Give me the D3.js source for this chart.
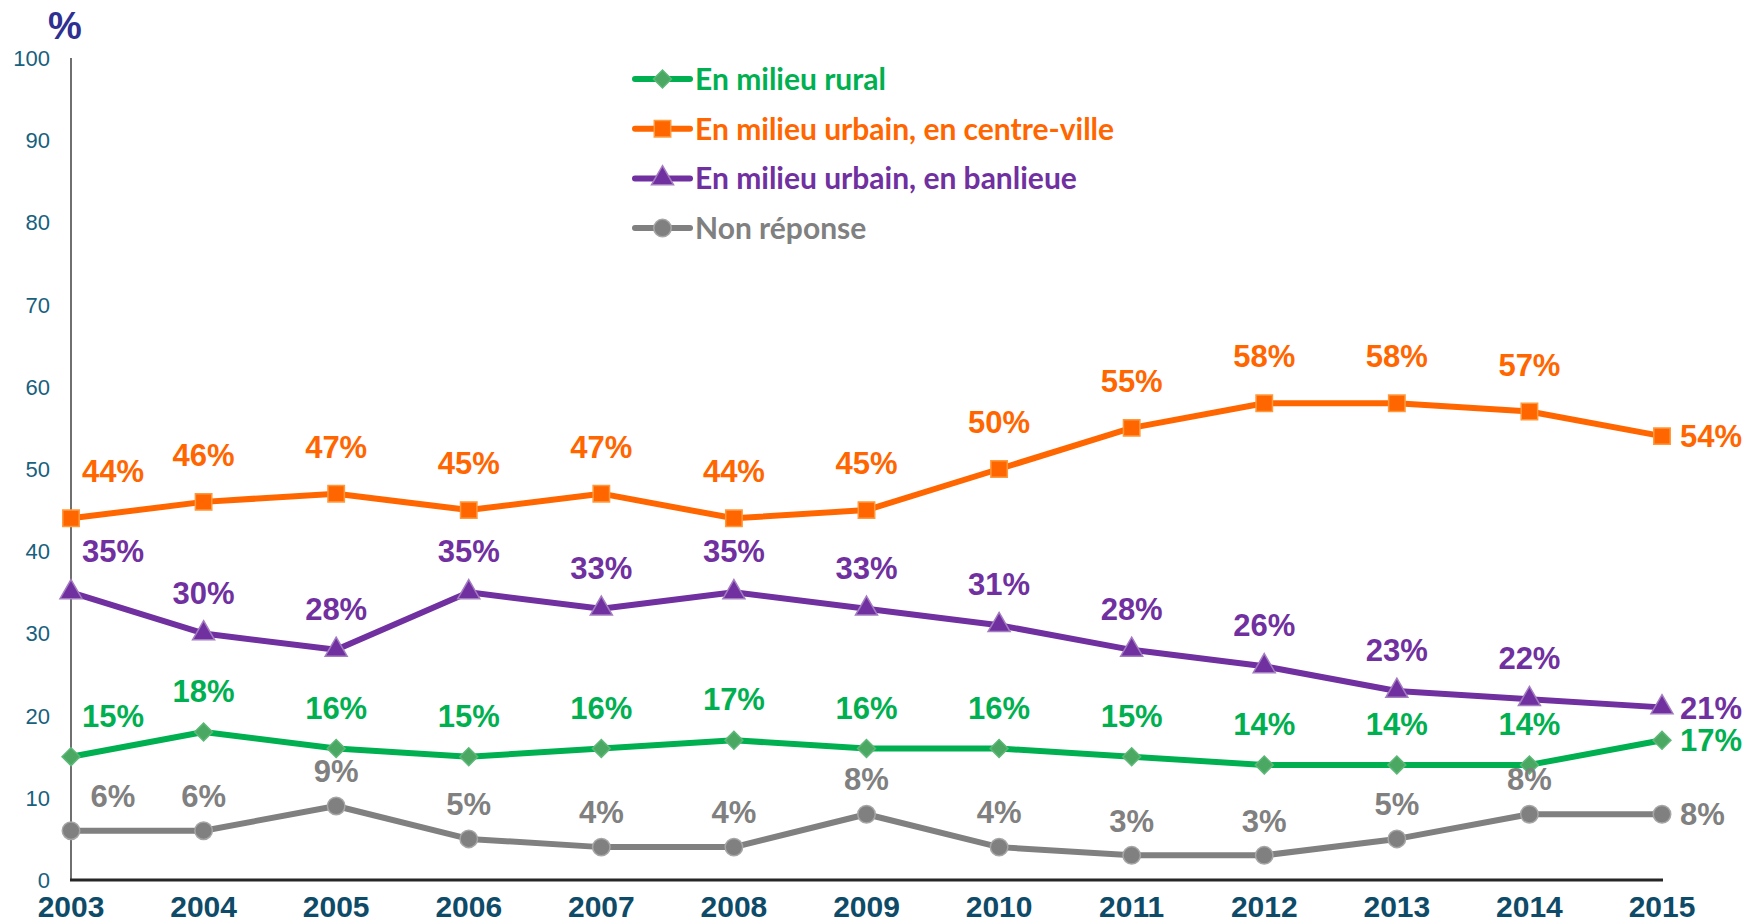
<!doctype html>
<html lang="fr">
<head>
<meta charset="utf-8">
<title>Lieu de résidence 2003-2015</title>
<style>
    body { margin: 0; background: #fff; }
    svg { display: block; }
    .ytick { font-family: "Liberation Sans", Arial, sans-serif; font-size: 22px; fill: #17607e; }
    .xtick { font-family: "Liberation Sans", Arial, sans-serif; font-size: 30px; font-weight: bold; fill: #0e4b68; }
    .lbl { font-family: "Liberation Sans", Arial, sans-serif; font-size: 31px; font-weight: bold; }
    .leg { font-family: Lato, "Open Sans", sans-serif; font-size: 30px; font-weight: bold; }
</style>
</head>
<body>
<svg id="chart" width="1746" height="924"></svg>
<script src="https://d3js.org/d3.v7.min.js"></script>
<script>

    // data
    const years = [2003, 2004, 2005, 2006, 2007, 2008, 2009, 2010, 2011, 2012, 2013, 2014, 2015];
    const yTicks = [0, 10, 20, 30, 40, 50, 60, 70, 80, 90, 100];

    const seriesNames = ["En milieu rural", "En milieu urbain, en centre-ville", "En milieu urbain, en banlieue", "Non réponse"];
    const ruralValues = [15, 18, 16, 15, 16, 17, 16, 16, 15, 14, 14, 14, 17];
    const centreValues = [44, 46, 47, 45, 47, 44, 45, 50, 55, 58, 58, 57, 54];
    const banlieueValues = [35, 30, 28, 35, 33, 35, 33, 31, 28, 26, 23, 22, 21];
    const nonReponseValues = [6, 6, 9, 5, 4, 4, 8, 4, 3, 3, 5, 8, 8];

    // look of each series (diamond = square turned 45 degrees, like Excel)
    const styles = [
        { line: "#00b050", fill: "#4ba863", stroke: "#5cb877", shape: d3.symbolSquare, size: 160, rotate: 45, dy: -41 },
        { line: "#ff6600", fill: "#ff6600", stroke: "#ff9a3c", shape: d3.symbolSquare, size: 270, rotate: 0, dy: -47 },
        { line: "#7030a0", fill: "#7030a0", stroke: "#a47cc0", shape: d3.symbolTriangle, size: 210, rotate: 0, dy: -41 },
        { line: "#808080", fill: "#808080", stroke: "#a6a6a6", shape: d3.symbolCircle, size: 240, rotate: 0, dy: -35 }
    ];

    const allValues = [ruralValues, centreValues, banlieueValues, nonReponseValues];
    const series = seriesNames.map((name, i) => ({
        name: name,
        style: styles[i],
        points: years.map((yr, j) => ({ year: yr, value: allValues[i][j] }))
    }));

    const svg = d3.select("#chart");
    const plotLeft = 71, plotRight = 1662, plotTop = 58, plotBottom = 880;

    const x = d3.scalePoint().domain(years).range([plotLeft, plotRight]);
    const y = d3.scaleLinear().domain([0, 100]).range([plotBottom, plotTop]);

    // axes
    svg.append("line")
        .attr("x1", plotLeft).attr("x2", plotLeft)
        .attr("y1", y(100)).attr("y2", plotBottom)
        .attr("stroke", "#222").attr("stroke-width", 1.3);

    svg.append("line")
        .attr("x1", plotLeft - 1).attr("x2", plotRight + 1)
        .attr("y1", plotBottom).attr("y2", plotBottom)
        .attr("stroke", "#262626").attr("stroke-width", 3);

    svg.selectAll("text.ytick")
        .data(yTicks).enter()
        .append("text")
        .attr("class", "ytick")
        .attr("x", 50)
        .attr("y", d => y(d))
        .attr("dy", "0.36em")
        .attr("text-anchor", "end")
        .text(d => d);

    svg.selectAll("text.xtick")
        .data(years).enter()
        .append("text")
        .attr("class", "xtick")
        .attr("x", d => x(d))
        .attr("y", 917)
        .attr("text-anchor", "middle")
        .text(d => d);

    svg.append("text")
        .attr("x", 65).attr("y", 39)
        .attr("text-anchor", "middle")
        .style("font-family", "'Liberation Sans', Arial, sans-serif")
        .style("font-size", "38px")
        .style("font-weight", "bold")
        .style("fill", "#2e3092")
        .text("%");

    // lines, markers, labels
    const line = d3.line()
        .x(d => x(d.year))
        .y(d => y(d.value));

    const g = svg.selectAll("g.serie")
        .data(series).enter()
        .append("g")
        .attr("class", "serie");

    g.append("path")
        .attr("d", d => line(d.points))
        .attr("fill", "none")
        .attr("stroke", d => d.style.line)
        .attr("stroke-width", 6)
        .attr("stroke-linejoin", "round");

    g.each(function (s) {
        const sel = d3.select(this);
        const n = s.points.length;

        sel.selectAll("path.mark")
            .data(s.points).enter()
            .append("path")
            .attr("class", "mark")
            .attr("d", d3.symbol().type(s.style.shape).size(s.style.size))
            .attr("transform", d => "translate(" + x(d.year) + "," + y(d.value) + ") rotate(" + s.style.rotate + ")")
            .attr("fill", s.style.fill)
            .attr("stroke", s.style.stroke)
            .attr("stroke-width", 1.5);

        sel.selectAll("text.lbl")
            .data(s.points).enter()
            .append("text")
            .attr("class", "lbl")
            .attr("fill", s.style.line)
            .attr("x", (d, i) => i === 0 ? x(d.year) + 42 : i === n - 1 ? x(d.year) + 18 : x(d.year))
            .attr("y", (d, i) => i === n - 1 ? y(d.value) : y(d.value) + s.style.dy)
            .attr("dy", "0.36em")
            .attr("text-anchor", (d, i) => i === n - 1 ? "start" : "middle")
            .text(d => d.value + "%");
    });

    // legend
    const legend = svg.selectAll("g.legend")
        .data(series).enter()
        .append("g")
        .attr("class", "legend")
        .attr("transform", (d, i) => "translate(635," + (79 + i * 49.7) + ")");

    legend.append("line")
        .attr("x1", 0).attr("x2", 55)
        .attr("stroke", d => d.style.line)
        .attr("stroke-width", 6)
        .attr("stroke-linecap", "round");

    legend.append("path")
        .attr("d", d => d3.symbol().type(d.style.shape).size(d.style.size)())
        .attr("transform", d => "translate(27.5,0) rotate(" + d.style.rotate + ")")
        .attr("fill", d => d.style.fill)
        .attr("stroke", d => d.style.stroke)
        .attr("stroke-width", 1.5);

    legend.append("text")
        .attr("class", "leg")
        .attr("x", 60)
        .attr("dy", "0.36em")
        .attr("fill", d => d.style.line)
        .text(d => d.name);

</script>
</body>
</html>
